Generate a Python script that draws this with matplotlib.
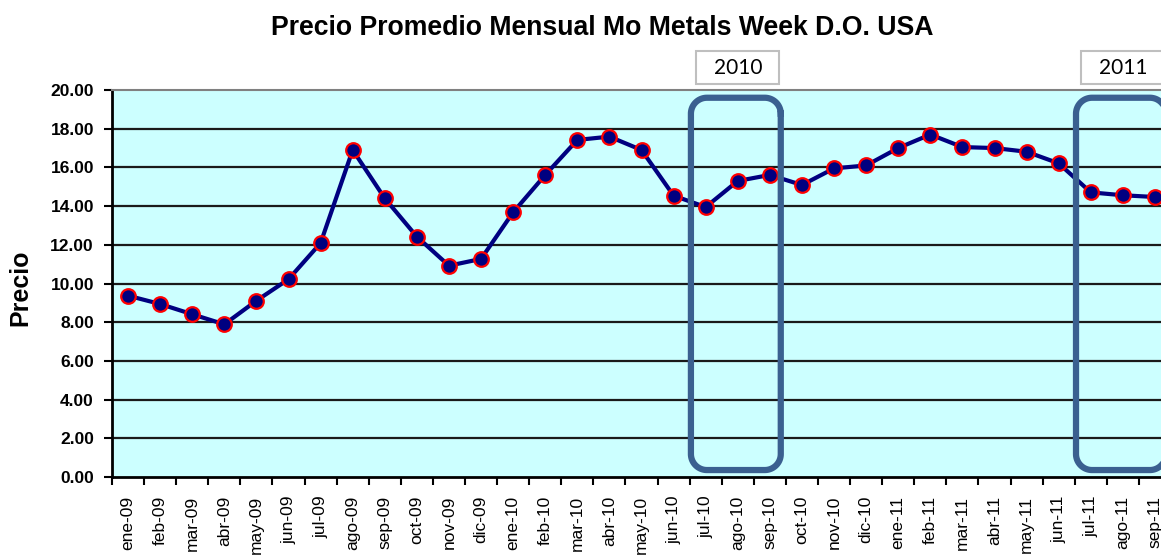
import matplotlib
matplotlib.use("Agg")
import matplotlib.pyplot as plt
from matplotlib.patches import Rectangle
import numpy as np

months = ["ene-09", "feb-09", "mar-09", "abr-09", "may-09", "jun-09", "jul-09", "ago-09",
          "sep-09", "oct-09", "nov-09", "dic-09", "ene-10", "feb-10", "mar-10", "abr-10",
          "may-10", "jun-10", "jul-10", "ago-10", "sep-10", "oct-10", "nov-10", "dic-10",
          "ene-11", "feb-11", "mar-11", "abr-11", "may-11", "jun-11", "jul-11", "ago-11", "sep-11"]
precio = [9.37, 8.94, 8.41, 7.89, 9.11, 10.22, 12.09, 16.90,
          14.40, 12.42, 10.92, 11.27, 13.68, 15.61, 17.42, 17.59,
          16.90, 14.54, 13.95, 15.30, 15.61, 15.09, 15.95, 16.10,
          17.00, 17.70, 17.05, 17.00, 16.81, 16.21, 14.71, 14.56, 14.47]
yticks = [0, 2, 4, 6, 8, 10, 12, 14, 16, 18, 20]
highlight_years = ["2010", "2011"]
highlight_start = ["jul-10", "jul-11"]
highlight_end = ["sep-10", "sep-11"]
label_center = ["ago-10", "ago-11"]

W, H = 1161, 557
fig = plt.figure(figsize=(W / 100, H / 100), dpi=100)
fig.patch.set_facecolor("white")
ax = fig.add_axes([112 / W, (H - 477) / H, 1059 / W, 387 / H])
ax.set_facecolor("#CCFFFF")

x = np.arange(len(months))
ax.set_xlim(-0.5, len(months) - 0.5)
ax.set_ylim(0, 20)

for v in yticks[1:-1]:
    ax.axhline(v, color="#1a1a1a", lw=1.6, zorder=1)

ax.plot(x, precio, color="#000080", lw=3, zorder=3,
        marker="o", markersize=10.5, markerfacecolor="#000080",
        markeredgecolor="#FF0000", markeredgewidth=1.6)

ax.spines["right"].set_visible(False)
ax.spines["top"].set_color("#808080")
ax.spines["top"].set_linewidth(1.5)
ax.spines["left"].set_linewidth(2)
ax.spines["bottom"].set_linewidth(2)

ax.set_yticks(yticks)
ax.set_yticklabels([f"{v:.2f}" for v in yticks], fontsize=12.5, fontweight="bold",
                   family="Liberation Sans")
ax.tick_params(axis="y", length=6, width=1.5, pad=7)

ax.set_xticks(x)
ax.set_xticklabels(months, rotation=90, fontsize=12.5, family="Liberation Sans")
ax.tick_params(axis="x", which="major", length=0, pad=13.5)
ax.set_xticks(np.arange(len(months) + 1) - 0.5, minor=True)
ax.tick_params(axis="x", which="minor", length=6, width=1.5)

fig.text(20 / W, 1 - 288 / H, "Precio", rotation=90, ha="center", va="center",
         fontsize=18, fontweight="bold", family="Liberation Sans")

fig.text(602 / W, 1 - 28 / H, "Precio Promedio Mensual Mo Metals Week D.O. USA",
         ha="center", va="center", fontsize=19.2, fontweight="bold", family="Liberation Sans")


def rounded_rect(x0, y0, x1, y1, rx, ry, n=24):
    pts = []
    corners = [(x1 - rx, y1 - ry, 0.0), (x0 + rx, y1 - ry, 0.5 * np.pi),
               (x0 + rx, y0 + ry, np.pi), (x1 - rx, y0 + ry, 1.5 * np.pi)]
    for cx, cy, a0 in corners:
        t = np.linspace(a0, a0 + 0.5 * np.pi, n)
        pts.append(np.column_stack([cx + rx * np.cos(t), cy + ry * np.sin(t)]))
    pts = np.vstack(pts + [pts[0][:1]])
    return pts[:, 0], pts[:, 1]


# highlight boxes
xu = 32.1   # px per category
yu = 19.35  # px per unit
r_px = 16
for yr, s, e, c in zip(highlight_years, highlight_start, highlight_end, label_center):
    i0 = months.index(s)
    i1 = months.index(e)
    bx, by = rounded_rect(i0 - 0.46, 0.36, i1 + 0.34, 19.6, r_px / xu, r_px / yu)
    ax.plot(bx, by, color="#3A6090", lw=4.5, zorder=4, clip_on=False,
            solid_joinstyle="round")
    ci = months.index(c)
    trans = ax.get_xaxis_transform()
    rect = Rectangle((ci - 1.29, 1.0155), 2.58, 0.0853, transform=trans,
                     facecolor="white", edgecolor="#BFBFBF", lw=1.5, clip_on=False, zorder=5)
    ax.add_patch(rect)
    ax.text(ci, 1.058, yr, transform=trans, ha="center", va="center",
            fontsize=15, family="Lato", zorder=6, clip_on=False)

fig.savefig("out.png", dpi=100)
